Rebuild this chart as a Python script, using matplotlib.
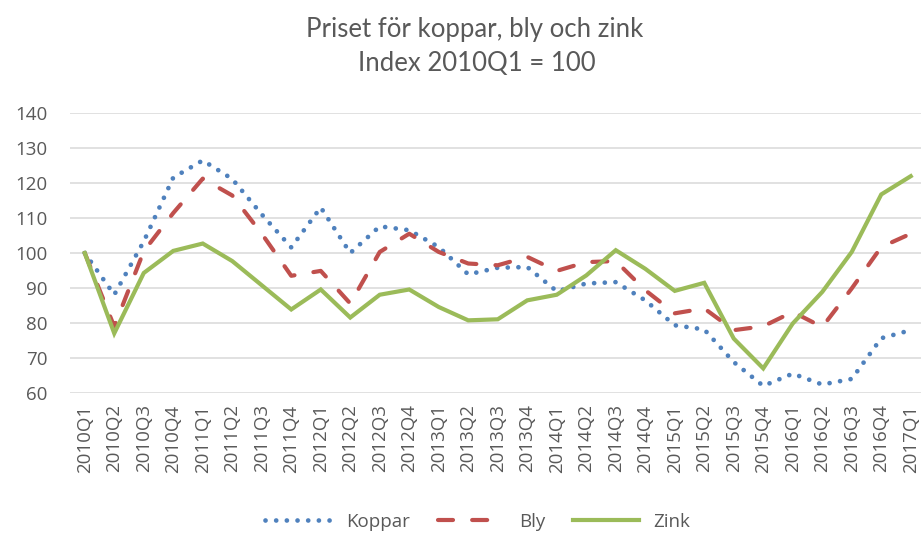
import matplotlib
matplotlib.use("Agg")
import matplotlib.pyplot as plt

quarters = ["2010Q1", "2010Q2", "2010Q3", "2010Q4",
            "2011Q1", "2011Q2", "2011Q3", "2011Q4",
            "2012Q1", "2012Q2", "2012Q3", "2012Q4",
            "2013Q1", "2013Q2", "2013Q3", "2013Q4",
            "2014Q1", "2014Q2", "2014Q3", "2014Q4",
            "2015Q1", "2015Q2", "2015Q3", "2015Q4",
            "2016Q1", "2016Q2", "2016Q3", "2016Q4",
            "2017Q1"]

koppar = [100, 88.1, 103.3, 121.5, 126.4, 121.1, 111.0, 101.6, 113.0, 100.0,
          107.6, 106.5, 101.7, 93.9, 95.8, 96.0, 89.1, 91.3, 91.7, 86.5,
          79.4, 78.2, 68.9, 62.1, 65.6, 62.5, 64.1, 75.7, 78.0]

bly = [100, 79.0, 100.5, 111.4, 121.2, 116.4, 105.5, 93.5, 94.9, 85.6,
       100.3, 105.5, 100.3, 97.0, 96.5, 98.9, 94.9, 97.4, 97.7, 89.4,
       82.8, 84.2, 78.0, 79.1, 83.2, 78.9, 89.9, 101.7, 105.5]

zink = [100, 77.1, 94.3, 100.6, 102.7, 97.7, 90.8, 83.9, 89.6, 81.6,
        88.1, 89.6, 84.6, 80.8, 81.1, 86.5, 88.1, 93.6, 100.8, 95.5,
        89.2, 91.5, 75.6, 67.1, 79.9, 88.9, 100.3, 116.7, 121.9]

yticks = [60, 70, 80, 90, 100, 110, 120, 130, 140]

plt.rcParams['font.family'] = ['Open Sans', 'DejaVu Sans']
text_color = "#595959"

W, H = 921, 538
fig = plt.figure(figsize=(W / 100, H / 100), dpi=100)
left = 70 / W
width = 29 * 29.5 / W
bottom = 1 - 393.3 / H
top = 1 - 112.7 / H
ax = fig.add_axes([left, bottom, width, top - bottom])

x = list(range(len(quarters)))
l1, = ax.plot(x, koppar, color="#4F81BD", lw=3.4, linestyle=(0, (0.01, 2.25)),
              dash_capstyle="round", solid_capstyle="round", label="Koppar", zorder=3)
l2, = ax.plot(x, bly, color="#C0504D", lw=3.0, linestyle=(0, (3.6, 4.6)),
              dash_capstyle="round", label="Bly", zorder=3)
l3, = ax.plot(x, zink, color="#9BBB59", lw=3.0, solid_joinstyle="miter",
              label="Zink", zorder=4)

ax.set_xlim(-0.5, len(quarters) - 0.5)
ax.set_ylim(60, 140)
ax.set_yticks(yticks)
ax.set_xticks(x)
ax.set_xticklabels(quarters, rotation=90)
ax.grid(axis="y", color="#D9D9D9", lw=1.1)
ax.set_axisbelow(True)
for s in ax.spines.values():
    s.set_visible(False)
ax.tick_params(axis="both", length=0, colors=text_color, labelsize=13.5)
ax.tick_params(axis="y", pad=16)
ax.tick_params(axis="x", pad=8)

title_font = ['Lato', 'DejaVu Sans']
fig.text(475 / W, 1 - 30 / H, "Priset för koppar, bly och zink", ha="center", va="center",
         fontsize=18.5, color=text_color, family=title_font)
fig.text(477 / W, 1 - 64 / H, "Index 2010Q1 = 100", ha="center", va="center",
         fontsize=18.5, color=text_color, family=title_font)

leg = fig.legend(handles=[l1, l2, l3], loc="center", bbox_to_anchor=(478 / W, 1 - 522 / H),
                 ncol=3, frameon=False, fontsize=13.5, handlelength=3.5,
                 handletextpad=0.8, columnspacing=1.5)
for t in leg.get_texts():
    t.set_color(text_color)

fig.savefig("out.png", dpi=100)
